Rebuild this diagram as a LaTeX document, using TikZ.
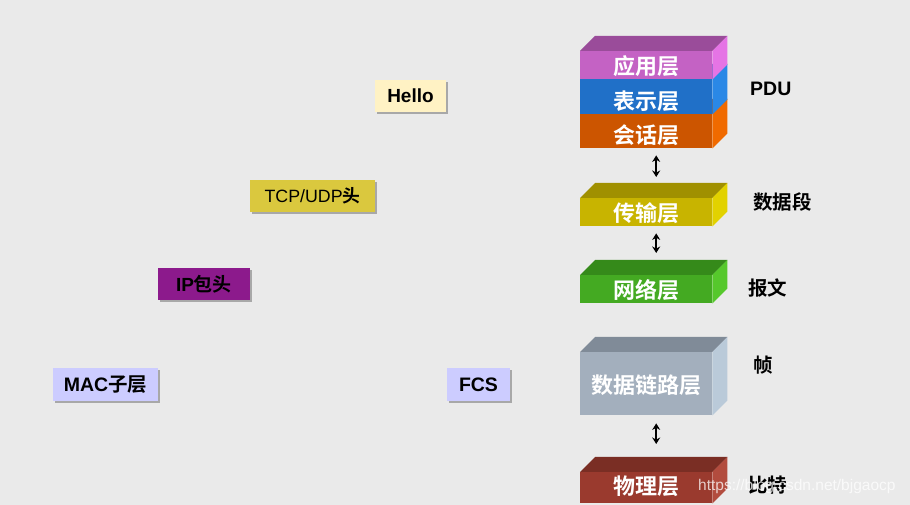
\documentclass[tikz,border=0pt]{standalone}
\usepackage{fontspec}
\setmainfont{Liberation Sans}
\newfontfamily\cjk{Noto Sans CJK SC}[BoldFont={Noto Sans CJK SC Bold}]
\usetikzlibrary{shadows,arrows.meta}
\definecolor{bgc}{HTML}{EAEAEA}
\definecolor{yyF}{HTML}{C462C4}\definecolor{yyT}{HTML}{9A4C9A}\definecolor{yyS}{HTML}{E574E5}
\definecolor{bsF}{HTML}{2070C8}\definecolor{bsT}{HTML}{1A5CA6}\definecolor{bsS}{HTML}{2A88E6}
\definecolor{hhF}{HTML}{CC5500}\definecolor{hhT}{HTML}{A34400}\definecolor{hhS}{HTML}{F06A00}
\definecolor{csF}{HTML}{C8B400}\definecolor{csT}{HTML}{A09000}\definecolor{csS}{HTML}{E2D200}
\definecolor{wlF}{HTML}{44AA22}\definecolor{wlT}{HTML}{358A1A}\definecolor{wlS}{HTML}{56C82C}
\definecolor{sjF}{HTML}{A3AFBD}\definecolor{sjT}{HTML}{808B98}\definecolor{sjS}{HTML}{BACAD9}
\definecolor{wjF}{HTML}{9A3A2E}\definecolor{wjT}{HTML}{7A2E24}\definecolor{wjS}{HTML}{B24C3E}
\definecolor{helloc}{HTML}{FFF2C4}
\definecolor{tcpc}{HTML}{DAC83E}
\definecolor{ipc}{HTML}{8C1A8C}
\definecolor{macc}{HTML}{CCCCFF}
\tikzset{
  front/.style={anchor=north west,inner sep=0pt},
  ltext/.style={inner sep=0pt,text=white,font=\cjk\bfseries\fontsize{22}{22}\selectfont},
  flatbox/.style={inner sep=0pt,text=black,
    drop shadow={shadow xshift=2pt,shadow yshift=-2pt,fill=black!45,opacity=0.7}},
  rlabel/.style={anchor=west,inner sep=0pt,font=\bfseries\fontsize{19.5}{19.5}\selectfont},
  updown/.style={{Stealth[length=6.5pt,width=8pt]}-{Stealth[length=6.5pt,width=8pt]},line width=1.7pt}
}
% #1 name, #2 left, #3 top, #4 width, #5 height, #6 colour prefix, #7 text, #8 text shift down
\newcommand\layerbox[8]{%
  \node[front,fill=#6F,minimum width=#4pt,minimum height=#5pt] (#1) at (#2,#3) {};
  \fill[#6T] (#1.north west) -- ++(15,-15) -- ([shift={(15,-15)}]#1.north east) -- (#1.north east) -- cycle;
  \fill[#6S] (#1.north east) -- ++(15,-15) -- ([shift={(15,-15)}]#1.south east) -- (#1.south east) -- cycle;
  \node[ltext] (#1-text) at ([yshift=-#8pt]#1.center) {#7};
  \coordinate (#1-topmid) at ([shift={(10,-15)}]#1.north);
  \coordinate (#1-botmid) at ([xshift=10]#1.south);
}
\begin{document}
\begin{tikzpicture}[x=1pt,y=1pt]
\fill[bgc] (0,0) rectangle (910,505);
\begin{scope}[shift={(0,505)},y=-1pt]
% layers
\layerbox{hh}{580}{114}{132}{34}{hh}{会话层}{4}
\layerbox{bs}{580}{79}{132}{35}{bs}{表示层}{4.5}
\layerbox{yy}{580}{51}{132}{28}{yy}{应用层}{1}
\layerbox{cs}{580}{198}{132}{28}{cs}{传输层}{0.5}
\layerbox{wl}{580}{275}{132}{28}{wl}{网络层}{0.5}
\layerbox{sj}{580}{352}{132}{63}{sj}{数据链路层}{1.5}
\layerbox{wj}{580}{472}{132}{31}{wj}{物理层}{-1}
% arrows
\draw[updown,shorten <=7pt,shorten >=6pt] (hh-botmid) -- (cs-topmid);
\draw[updown,shorten <=7pt,shorten >=7pt] (cs-botmid) -- (wl-topmid);
\draw[updown,shorten <=8pt,shorten >=13pt] (sj-botmid) -- (wj-topmid);
% right labels
\node[rlabel] (pdu) at (750,89) {PDU};
\node[rlabel] (sjd) at (753,202) {\cjk\bfseries 数据段};
\node[rlabel] (bw) at (748,288) {\cjk\bfseries 报文};
\node[rlabel] (zhen) at (753,365) {\cjk\bfseries 帧};
\node[rlabel] (bt) at (748,485) {\cjk\bfseries 比特};
% left boxes
\node[flatbox,fill=helloc,minimum width=71pt,minimum height=32pt,font=\bfseries\fontsize{19}{19}\selectfont] (hello) at (410.5,96) {Hello};
\node[flatbox,fill=tcpc,minimum width=125pt,minimum height=32pt,font=\fontsize{17.8}{17.8}\selectfont] (tcp) at (312.5,196) {TCP/UDP{\cjk\bfseries 头}};
\node[flatbox,fill=ipc,minimum width=92pt,minimum height=32pt,font=\bfseries\fontsize{19}{19}\selectfont] (ip) at (204,284) {IP{\cjk\bfseries 包头}};
\node[flatbox,fill=macc,minimum width=105pt,minimum height=33pt,font=\bfseries\fontsize{19.5}{19.5}\selectfont] (mac) at (105.5,384.5) {MAC{\cjk\bfseries 子层}};
\node[flatbox,fill=macc,minimum width=63pt,minimum height=33pt,font=\bfseries\fontsize{19.5}{19.5}\selectfont] (fcs) at (478.5,384.5) {FCS};
% watermark
\node[anchor=west,inner sep=0pt,text=white,opacity=0.75,font=\fontsize{15.5}{15.5}\selectfont] (wm) at (698,486) {https://blog.csdn.net/bjgaocp};
\end{scope}
\end{tikzpicture}
\end{document}
